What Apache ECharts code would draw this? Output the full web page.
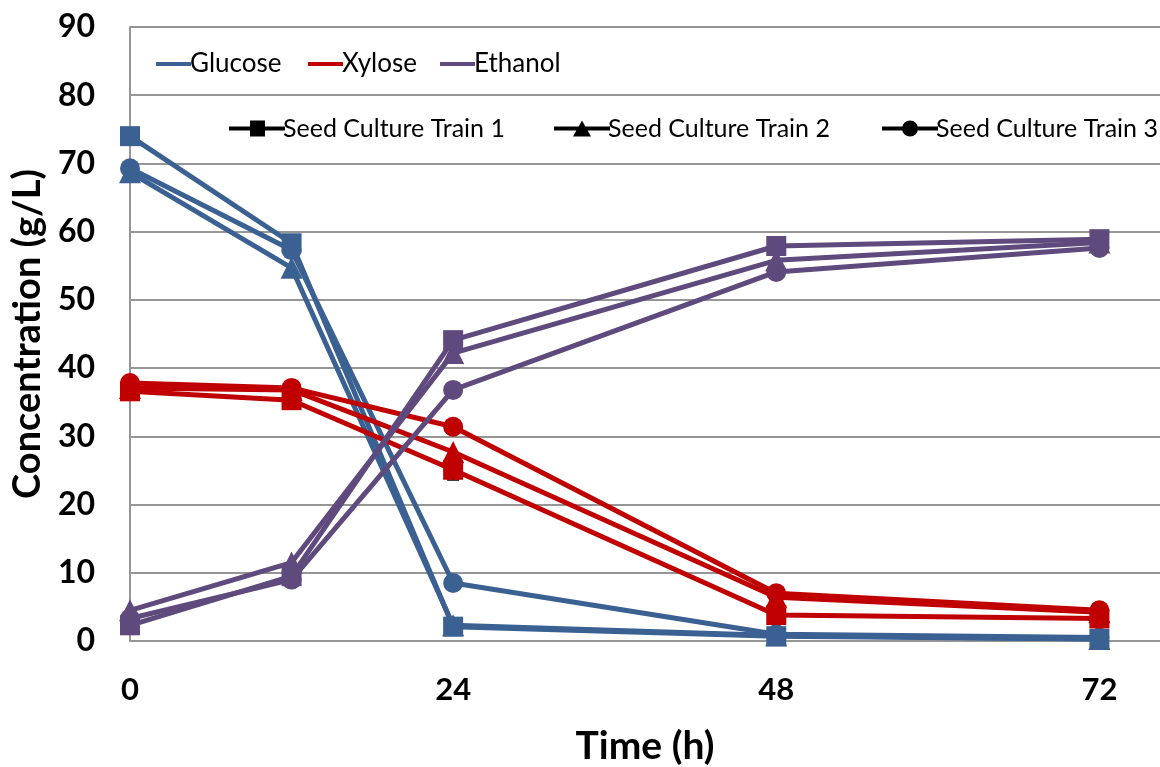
<!DOCTYPE html>
<html><head><meta charset="utf-8">
<script src="https://cdn.jsdelivr.net/npm/echarts@6/dist/echarts.min.js"></script>
<style>html,body{margin:0;padding:0;background:#fff}#c{width:1160px;height:767px}</style>
</head><body><div id="c"></div>
<script>
const times = [0, 12, 24, 48, 72];
const xTickValues = [0, 24, 48, 72];
const glucoseT1 = [74.0, 58.3, 2.1, 0.7, 0.3];
const glucoseT2 = [68.7, 54.7, 2.3, 0.8, 0.3];
const glucoseT3 = [69.3, 57.3, 8.5, 1.0, 0.5];
const xyloseT1 = [36.6, 35.3, 25.1, 3.8, 3.3];
const xyloseT2 = [37.1, 36.8, 27.7, 6.4, 4.2];
const xyloseT3 = [37.8, 37.1, 31.4, 7.0, 4.5];
const ethanolT1 = [2.3, 9.5, 44.1, 57.9, 58.9];
const ethanolT2 = [4.5, 11.5, 42.2, 55.8, 58.4];
const ethanolT3 = [3.3, 9.0, 36.8, 54.1, 57.6];
const errorBars = [[24, 25.1, 23.6]];
const analytes = ['Glucose', 'Xylose', 'Ethanol'];
const trains = ['Seed Culture Train 1', 'Seed Culture Train 2', 'Seed Culture Train 3'];

const colors = { Glucose: '#3A6192', Xylose: '#C00000', Ethanol: '#5F4A7D' };
const symbols = ['rect', 'triangle', 'circle'];
const symSizes = [20, 22, 20];
const legendIcons = [
  'path://M0,6H56V10H0Z M21,0H36V16H21Z',
  'path://M0,6H56V10H0Z M19,16L28,0L37,16Z',
  'path://M0,6H56V10H0Z M20,8A8,8 0 1,1 36,8A8,8 0 1,1 20,8Z'
];
const dataMap = {
  Glucose: [glucoseT1, glucoseT2, glucoseT3],
  Xylose: [xyloseT1, xyloseT2, xyloseT3],
  Ethanol: [ethanolT1, ethanolT2, ethanolT3]
};
const FONT = 'Lato';
const series = [];
analytes.forEach(a => {
  dataMap[a].forEach((vals, i) => {
    series.push({
      type: 'line', name: a + ' ' + (i + 1),
      data: times.map((t, k) => [t, vals[k]]),
      symbol: symbols[i], symbolSize: symSizes[i],
      showSymbol: true,
      itemStyle: { color: colors[a] },
      lineStyle: { color: colors[a], width: 5 },
      z: 3
    });
  });
});
series.push({
  type: 'custom', name: 'err', z: 2,
  data: errorBars,
  renderItem: function (params, api) {
    const top = api.coord([api.value(0), api.value(1)]);
    const bot = api.coord([api.value(0), api.value(2)]);
    return { type: 'group', children: [
      { type: 'line', shape: { x1: top[0], y1: top[1], x2: bot[0], y2: bot[1] }, style: { stroke: '#000', lineWidth: 1.5 } },
      { type: 'line', shape: { x1: bot[0] - 6, y1: bot[1], x2: bot[0] + 6, y2: bot[1] }, style: { stroke: '#000', lineWidth: 1.5 } }
    ]};
  }
});
// legend-only series
analytes.forEach(a => series.push({ type: 'line', name: a, data: [], symbol: 'none', lineStyle: { color: colors[a], width: 4 }, itemStyle: { color: colors[a] } }));
trains.forEach((t, i) => series.push({ type: 'line', name: t, data: [], symbol: symbols[i], lineStyle: { color: '#000', width: 4 }, itemStyle: { color: '#000' } }));

const legendPos1 = [151, 303, 435];
const legendPos2 = [224, 549, 877];
const legends = [];
analytes.forEach((a, i) => legends.push({
  data: [{ name: a, icon: 'rect' }], left: legendPos1[i], top: 46, itemWidth: 35, itemHeight: 4, itemGap: 0,
  textStyle: { fontFamily: FONT, fontSize: 26, color: '#000', padding: [0, 0, 0, -6] }
}));
trains.forEach((t, i) => legends.push({
  data: [{ name: t, icon: legendIcons[i] }], left: legendPos2[i], top: 111, itemWidth: 56, itemHeight: 16, itemGap: 0,
  textStyle: { fontFamily: FONT, fontSize: 25, color: '#000', padding: [0, 0, 0, -7] }
}));

const chart = echarts.init(document.getElementById('c'));
chart.setOption({
  animation: false,
  backgroundColor: '#fff',
  legend: legends,
  grid: { left: 130, right: 0, top: 27, bottom: 126, containLabel: false, outerBoundsMode: 'none' },
  xAxis: {
    type: 'value', min: 0, max: 76.5, interval: 24,
    name: 'Time (h)', nameLocation: 'middle', nameGap: 86,
    nameTextStyle: { fontFamily: FONT, fontSize: 39, fontWeight: 'bold', color: '#000' },
    axisLine: { show: true, lineStyle: { color: '#969696', width: 2 } },
    axisTick: { show: false },
    splitLine: { show: false },
    axisLabel: { margin: 33, fontFamily: FONT, fontSize: 31, fontWeight: 'bold', color: '#000',
      formatter: v => xTickValues.indexOf(v) >= 0 ? String(v) : '' }
  },
  yAxis: {
    type: 'value', min: 0, max: 90, interval: 10,
    name: 'Concentration (g/L)', nameLocation: 'middle', nameGap: 82,
    nameTextStyle: { fontFamily: FONT, fontSize: 38, fontWeight: 'bold', color: '#000' },
    axisLine: { show: true, lineStyle: { color: '#969696', width: 2 } },
    axisTick: { show: false },
    splitLine: { show: true, lineStyle: { color: '#969696', width: 2 } },
    axisLabel: { margin: 35, fontFamily: FONT, fontSize: 32, fontWeight: 'bold', color: '#000' }
  },
  series: series
});
</script></body></html>
